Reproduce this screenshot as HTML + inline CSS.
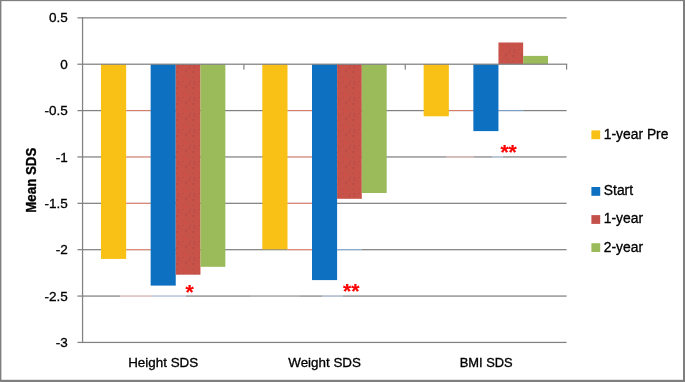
<!DOCTYPE html>
<html><head><meta charset="utf-8"><title>Mean SDS chart</title>
<style>
html,body{margin:0;padding:0;background:#fff;}
body{width:685px;height:382px;overflow:hidden;}
svg{display:block}
text{font-family:"Liberation Sans",sans-serif;fill:#000;stroke:#000;stroke-width:0.32px;}
text.ast{fill:#FF0000;stroke:#FF0000;stroke-width:0.2px;}
</style></head><body>
<svg width="685" height="382" viewBox="0 0 685 382">
<defs>
<pattern id="speck" width="16" height="16" patternUnits="userSpaceOnUse">
<rect x="0" y="0" width="16" height="16" fill="#C8524A"/>
<rect x="4.9" y="2.3" width="1" height="1" fill="#F0302A" opacity="0.35"/>
<rect x="1.1" y="8.0" width="1" height="1" fill="#7E4646" opacity="0.38"/>
<rect x="0.9" y="7.6" width="1" height="1" fill="#7E4646" opacity="0.38"/>
<rect x="6.5" y="1.0" width="1" height="1" fill="#7E4646" opacity="0.38"/>
<rect x="6.4" y="12.4" width="1" height="1" fill="#7E4646" opacity="0.38"/>
<rect x="3.3" y="9.4" width="1" height="1" fill="#F0302A" opacity="0.35"/>
<rect x="8.7" y="6.0" width="1" height="1" fill="#F0302A" opacity="0.35"/>
<rect x="0.7" y="12.9" width="1" height="1" fill="#7E4646" opacity="0.38"/>
<rect x="2.2" y="1.8" width="1" height="1" fill="#7E4646" opacity="0.38"/>
<rect x="12.2" y="2.7" width="1" height="1" fill="#7E4646" opacity="0.38"/>
<rect x="9.6" y="5.6" width="1" height="1" fill="#7E4646" opacity="0.38"/>
<rect x="0.9" y="0.9" width="1" height="1" fill="#7E4646" opacity="0.38"/>
<rect x="10.2" y="6.4" width="1" height="1" fill="#7E4646" opacity="0.38"/>
<rect x="8.8" y="6.8" width="1" height="1" fill="#7E4646" opacity="0.38"/>
<rect x="11.9" y="10.5" width="1" height="1" fill="#7E4646" opacity="0.38"/>
<rect x="8.6" y="7.9" width="1" height="1" fill="#F0302A" opacity="0.35"/>
<rect x="10.9" y="4.3" width="1" height="1" fill="#F0302A" opacity="0.35"/>
<rect x="1.8" y="6.3" width="1" height="1" fill="#F0302A" opacity="0.35"/>
<rect x="2.3" y="7.3" width="1" height="1" fill="#7E4646" opacity="0.38"/>
<rect x="10.0" y="11.5" width="1" height="1" fill="#7E4646" opacity="0.38"/>
<rect x="13.1" y="4.7" width="1" height="1" fill="#F0302A" opacity="0.35"/>
<rect x="8.9" y="8.7" width="1" height="1" fill="#7E4646" opacity="0.38"/>
<rect x="12.6" y="14.2" width="1" height="1" fill="#7E4646" opacity="0.38"/>
<rect x="10.0" y="0.9" width="1" height="1" fill="#F0302A" opacity="0.35"/>
<rect x="9.7" y="14.9" width="1" height="1" fill="#F0302A" opacity="0.35"/>
<rect x="4.3" y="5.8" width="1" height="1" fill="#F0302A" opacity="0.35"/>
<rect x="0.3" y="6.9" width="1" height="1" fill="#7E4646" opacity="0.38"/>
<rect x="1.8" y="0.9" width="1" height="1" fill="#F0302A" opacity="0.35"/>
<rect x="1.9" y="3.7" width="1" height="1" fill="#7E4646" opacity="0.38"/>
<rect x="13.1" y="1.2" width="1" height="1" fill="#7E4646" opacity="0.38"/>
<rect x="8.2" y="13.3" width="1" height="1" fill="#F0302A" opacity="0.35"/>
<rect x="13.0" y="4.2" width="1" height="1" fill="#7E4646" opacity="0.38"/>
<rect x="5.4" y="13.3" width="1" height="1" fill="#F0302A" opacity="0.35"/>
<rect x="2.3" y="2.6" width="1" height="1" fill="#7E4646" opacity="0.38"/>
</pattern>
<filter id="soft" x="0" y="0" width="685" height="382" filterUnits="userSpaceOnUse"><feGaussianBlur stdDeviation="0.42"/></filter>
</defs>
<rect x="0" y="0" width="685" height="382" fill="#ffffff"/>
<g filter="url(#soft)">
<rect x="-5" y="-5" width="695" height="392" fill="#ffffff"/>

<rect x="77.45" y="17.23" width="489.15" height="1.25" fill="#828282"/>
<rect x="77.45" y="109.97" width="489.15" height="1.25" fill="#828282"/>
<rect x="77.45" y="156.33" width="489.15" height="1.25" fill="#828282"/>
<rect x="77.45" y="202.70" width="489.15" height="1.25" fill="#828282"/>
<rect x="77.45" y="249.07" width="489.15" height="1.25" fill="#828282"/>
<rect x="77.45" y="295.44" width="489.15" height="1.25" fill="#828282"/>
<rect x="77.45" y="341.81" width="489.15" height="1.25" fill="#828282"/>
<rect x="126.15" y="109.79" width="24.50" height="1.6" fill="#ffffff"/>
<rect x="126.15" y="110.12" width="24.50" height="0.95" fill="#D46C58"/>
<rect x="126.15" y="156.16" width="24.50" height="1.6" fill="#ffffff"/>
<rect x="126.15" y="156.48" width="24.50" height="0.95" fill="#D46C58"/>
<rect x="126.15" y="202.53" width="24.50" height="1.6" fill="#ffffff"/>
<rect x="126.15" y="202.85" width="24.50" height="0.95" fill="#D46C58"/>
<rect x="126.15" y="248.90" width="24.50" height="1.6" fill="#ffffff"/>
<rect x="126.15" y="249.22" width="24.50" height="0.95" fill="#D46C58"/>
<rect x="120.00" y="295.27" width="32.00" height="1.6" fill="#ffffff"/>
<rect x="120.00" y="295.57" width="32.00" height="1.0" fill="#D4A9A3"/>
<rect x="152.00" y="295.27" width="34.00" height="1.6" fill="#ffffff"/>
<rect x="152.00" y="295.57" width="34.00" height="1.0" fill="#9FB8D2"/>
<rect x="100.95" y="64.22" width="25.2" height="194.68" fill="#F9C112"/>
<rect x="150.65" y="64.22" width="25.1" height="221.38" fill="#1070C0"/>
<rect x="175.75" y="64.22" width="24.7" height="210.48" fill="url(#speck)"/>
<rect x="200.45" y="64.22" width="24.9" height="202.58" fill="#9BBB5A"/>
<rect x="287.50" y="109.79" width="24.50" height="1.6" fill="#ffffff"/>
<rect x="287.50" y="110.12" width="24.50" height="0.95" fill="#D46C58"/>
<rect x="287.50" y="156.16" width="24.50" height="1.6" fill="#ffffff"/>
<rect x="287.50" y="156.48" width="24.50" height="0.95" fill="#D46C58"/>
<rect x="287.50" y="202.53" width="24.50" height="1.6" fill="#ffffff"/>
<rect x="287.50" y="202.85" width="24.50" height="0.95" fill="#D46C58"/>
<rect x="287.50" y="248.90" width="24.50" height="1.6" fill="#ffffff"/>
<rect x="287.50" y="249.22" width="24.50" height="0.95" fill="#D46C58"/>
<rect x="337.10" y="248.90" width="24.70" height="1.6" fill="#ffffff"/>
<rect x="337.10" y="249.20" width="24.70" height="1.0" fill="#6E97C2"/>
<rect x="250.00" y="295.27" width="50.00" height="1.6" fill="#ffffff"/>
<rect x="250.00" y="295.57" width="50.00" height="1.0" fill="#8E8785"/>
<rect x="322.00" y="295.27" width="21.00" height="1.6" fill="#ffffff"/>
<rect x="322.00" y="295.57" width="21.00" height="1.0" fill="#8AA3BE"/>
<rect x="262.30" y="64.22" width="25.2" height="185.08" fill="#F9C112"/>
<rect x="312.00" y="64.22" width="25.1" height="215.88" fill="#1070C0"/>
<rect x="337.10" y="64.22" width="24.7" height="134.58" fill="url(#speck)"/>
<rect x="361.80" y="64.22" width="24.9" height="128.78" fill="#9BBB5A"/>
<rect x="448.85" y="109.79" width="24.50" height="1.6" fill="#ffffff"/>
<rect x="448.85" y="110.12" width="24.50" height="0.95" fill="#D46C58"/>
<rect x="498.45" y="109.79" width="24.70" height="1.6" fill="#ffffff"/>
<rect x="498.45" y="110.09" width="24.70" height="1.0" fill="#6E97C2"/>
<rect x="446.00" y="156.16" width="28.00" height="1.6" fill="#ffffff"/>
<rect x="446.00" y="156.46" width="28.00" height="1.0" fill="#B98D88"/>
<rect x="492.00" y="156.16" width="11.00" height="1.6" fill="#ffffff"/>
<rect x="492.00" y="156.46" width="11.00" height="1.0" fill="#8AA3BE"/>
<rect x="423.65" y="64.22" width="25.2" height="52.08" fill="#F9C112"/>
<rect x="473.35" y="64.22" width="25.1" height="66.88" fill="#1070C0"/>
<rect x="498.45" y="42.50" width="24.7" height="21.72" fill="url(#speck)"/>
<rect x="523.15" y="55.90" width="24.9" height="8.32" fill="#9BBB5A"/>
<rect x="77.45" y="63.59" width="489.75" height="1.25" fill="#828282"/>
<rect x="243.30" y="64.22" width="1.2" height="5.4" fill="#828282"/>
<rect x="404.65" y="64.22" width="1.2" height="5.4" fill="#828282"/>
<rect x="566.00" y="64.22" width="1.2" height="5.4" fill="#828282"/>
<rect x="81.93" y="17.25" width="1.25" height="325.79" fill="#828282"/>
<text x="67.7" y="22.4" font-size="13.5" text-anchor="end">0.5</text>
<text x="67.7" y="68.7" font-size="13.5" text-anchor="end">0</text>
<text x="67.7" y="115.1" font-size="13.5" text-anchor="end">-0.5</text>
<text x="67.7" y="161.5" font-size="13.5" text-anchor="end">-1</text>
<text x="67.7" y="207.8" font-size="13.5" text-anchor="end">-1.5</text>
<text x="67.7" y="254.2" font-size="13.5" text-anchor="end">-2</text>
<text x="67.7" y="300.6" font-size="13.5" text-anchor="end">-2.5</text>
<text x="67.7" y="346.9" font-size="13.5" text-anchor="end">-3</text>
<text x="163.2" y="367.2" font-size="13.4" text-anchor="middle">Height SDS</text>
<text x="324.6" y="367.2" font-size="13.4" text-anchor="middle">Weight SDS</text>
<text x="486.2" y="367.2" font-size="12.9" text-anchor="middle">BMI SDS</text>
<text transform="translate(35.9,180.2) rotate(-90) scale(0.925,1)" font-size="14.4" font-weight="bold" text-anchor="middle">Mean SDS</text>
<rect x="591.4" y="130.4" width="8.8" height="8.8" fill="#F9C112"/>
<text x="603.8" y="138.7" font-size="13.85">1-year Pre</text>
<rect x="591.4" y="187.0" width="8.8" height="8.8" fill="#1070C0"/>
<text x="603.8" y="195.3" font-size="13.85">Start</text>
<rect x="591.4" y="215.1" width="8.8" height="8.8" fill="#C4514A"/>
<text x="603.8" y="223.4" font-size="13.85">1-year</text>
<rect x="591.4" y="243.2" width="8.8" height="8.8" fill="#9BBB5A"/>
<text x="603.8" y="251.5" font-size="13.85">2-year</text>
<text class="ast" x="185.5" y="298.6" font-size="21" font-weight="bold">*</text>
<text class="ast" x="343.0" y="298.4" font-size="21" font-weight="bold">**</text>
<text class="ast" x="500.4" y="159.4" font-size="21" font-weight="bold">**</text>
</g>
<rect x="0" y="0" width="685" height="1.15" fill="#7f7f7f"/>
<rect x="0" y="0" width="1.4" height="382" fill="#7f7f7f"/>
<rect x="683.0" y="0" width="2" height="382" fill="#7f7f7f"/>
<rect x="0" y="379.8" width="685" height="2.2" fill="#7f7f7f"/>
</svg></body></html>
